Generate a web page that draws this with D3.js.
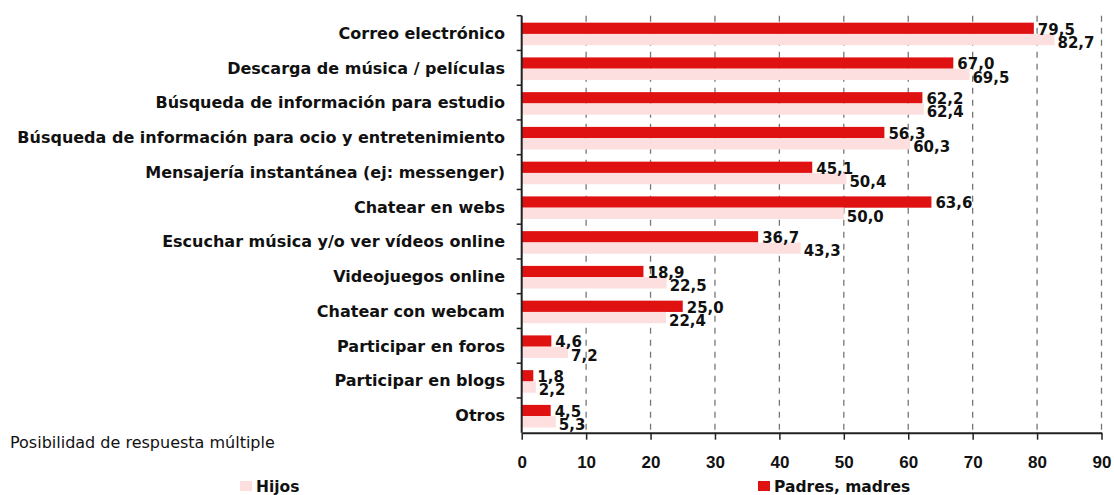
<!DOCTYPE html>
<meta charset="utf-8">
<style>
body { margin: 0; background: #fff; }
text { font-family: "DejaVu Sans", sans-serif; fill: #111; }
</style>
<svg width="1114" height="495"></svg>
<script src="https://cdn.jsdelivr.net/npm/d3@7"></script>
<script>

var categorias = [
  "Correo electrónico",
  "Descarga de música / películas",
  "Búsqueda de información para estudio",
  "Búsqueda de información para ocio y entretenimiento",
  "Mensajería instantánea (ej: messenger)",
  "Chatear en webs",
  "Escuchar música y/o ver vídeos online",
  "Videojuegos online",
  "Chatear con webcam",
  "Participar en foros",
  "Participar en blogs",
  "Otros"
];
var padres = [79.5, 67.0, 62.2, 56.3, 45.1, 63.6, 36.7, 18.9, 25.0, 4.6, 1.8, 4.5];
var hijos  = [82.7, 69.5, 62.4, 60.3, 50.4, 50.0, 43.3, 22.5, 22.4, 7.2, 2.2, 5.3];
var ticksX = [0, 10, 20, 30, 40, 50, 60, 70, 80, 90];
var series = ["Hijos", "Padres, madres"];
var nota = "Posibilidad de respuesta múltiple";

var rojo = "#e01111", rosa = "#fddfdf";

var svg = d3.select("svg");

var x = d3.scaleLinear().domain([0, 90]).range([521.7, 1101.5]);
var y = d3.scaleBand().domain(categorias).range([15.7, 432.7]);
var bw = y.bandwidth(),
    bh = bw * 0.325,
    off = bw * 0.2;

var es = d3.formatLocale({decimal: ",", thousands: ".", grouping: [3], currency: ["", " €"]});
var fmt = es.format(".1f");

// rejilla
svg.append("g").selectAll("line")
  .data(ticksX.slice(1))
  .join("line")
    .attr("x1", d => x(d)).attr("x2", d => x(d))
    .attr("y1", y.range()[0]).attr("y2", y.range()[1])
    .attr("stroke", "#777")
    .attr("stroke-width", 1.3)
    .attr("stroke-dasharray", "6,6");

// barras
var filas = svg.append("g").selectAll("g")
  .data(categorias)
  .join("g")
    .attr("transform", d => "translate(0," + y(d) + ")");

filas.append("rect")
    .attr("x", x(0))
    .attr("y", off)
    .attr("width", (d, i) => x(padres[i]) - x(0))
    .attr("height", bh)
    .attr("fill", rojo);

filas.append("rect")
    .attr("x", x(0))
    .attr("y", off + bh)
    .attr("width", (d, i) => x(hijos[i]) - x(0))
    .attr("height", bh)
    .attr("fill", rosa);

// etiquetas de valor
filas.append("text")
    .attr("x", (d, i) => x(padres[i]) + 4)
    .attr("y", off + bh / 2 + 1)
    .attr("dy", "0.36em")
    .style("font-size", "15px")
    .style("font-weight", "bold")
    .text((d, i) => fmt(padres[i]));

filas.append("text")
    .attr("x", (d, i) => x(hijos[i]) + 3)
    .attr("y", off + bh * 1.5 + 3)
    .attr("dy", "0.36em")
    .style("font-size", "15px")
    .style("font-weight", "bold")
    .text((d, i) => fmt(hijos[i]));

// eje vertical
var ejeY = svg.append("g");
ejeY.append("line")
    .attr("x1", x(0)).attr("x2", x(0))
    .attr("y1", y.range()[0]).attr("y2", y.range()[1])
    .attr("stroke", "#222").attr("stroke-width", 2);
ejeY.selectAll("line.t")
  .data(categorias)
  .join("line")
    .attr("class", "t")
    .attr("x1", x(0) - 5).attr("x2", x(0))
    .attr("y1", d => y(d)).attr("y2", d => y(d))
    .attr("stroke", "#222").attr("stroke-width", 1.5);
ejeY.selectAll("text")
  .data(categorias)
  .join("text")
    .attr("x", 505)
    .attr("y", d => y(d) + bw / 2)
    .attr("dy", "0.36em")
    .attr("text-anchor", "end")
    .style("font-size", "16px")
    .style("font-weight", "bold")
    .text(d => d);

// eje horizontal
var ejeX = svg.append("g")
    .attr("transform", "translate(0," + y.range()[1] + ")")
    .call(d3.axisBottom(x).tickValues(ticksX).tickSize(7).tickPadding(16).tickSizeOuter(0));
ejeX.select(".domain").attr("stroke", "#222").attr("stroke-width", 2);
ejeX.selectAll(".tick line").attr("stroke", "#222").attr("stroke-width", 1.5);
ejeX.selectAll(".tick text")
    .attr("fill", "#111")
    .style("font-family", "'Liberation Sans', Arial, sans-serif")
    .style("font-size", "17px")
    .style("font-weight", "bold");

// nota
svg.append("text")
    .attr("x", 10).attr("y", 442)
    .attr("dy", "0.36em")
    .style("font-size", "16px")
    .text(nota);

// leyenda
var leyenda = svg.append("g").selectAll("g")
  .data(series)
  .join("g")
    .attr("transform", (d, i) => "translate(" + [240, 758][i] + ",481)");
leyenda.append("rect")
    .attr("width", 12).attr("height", 10)
    .attr("fill", (d, i) => [rosa, rojo][i]);
leyenda.append("text")
    .attr("x", 16).attr("y", 5)
    .attr("dy", "0.36em")
    .style("font-size", "15.5px")
    .style("font-weight", "bold")
    .text(d => d);

</script>
